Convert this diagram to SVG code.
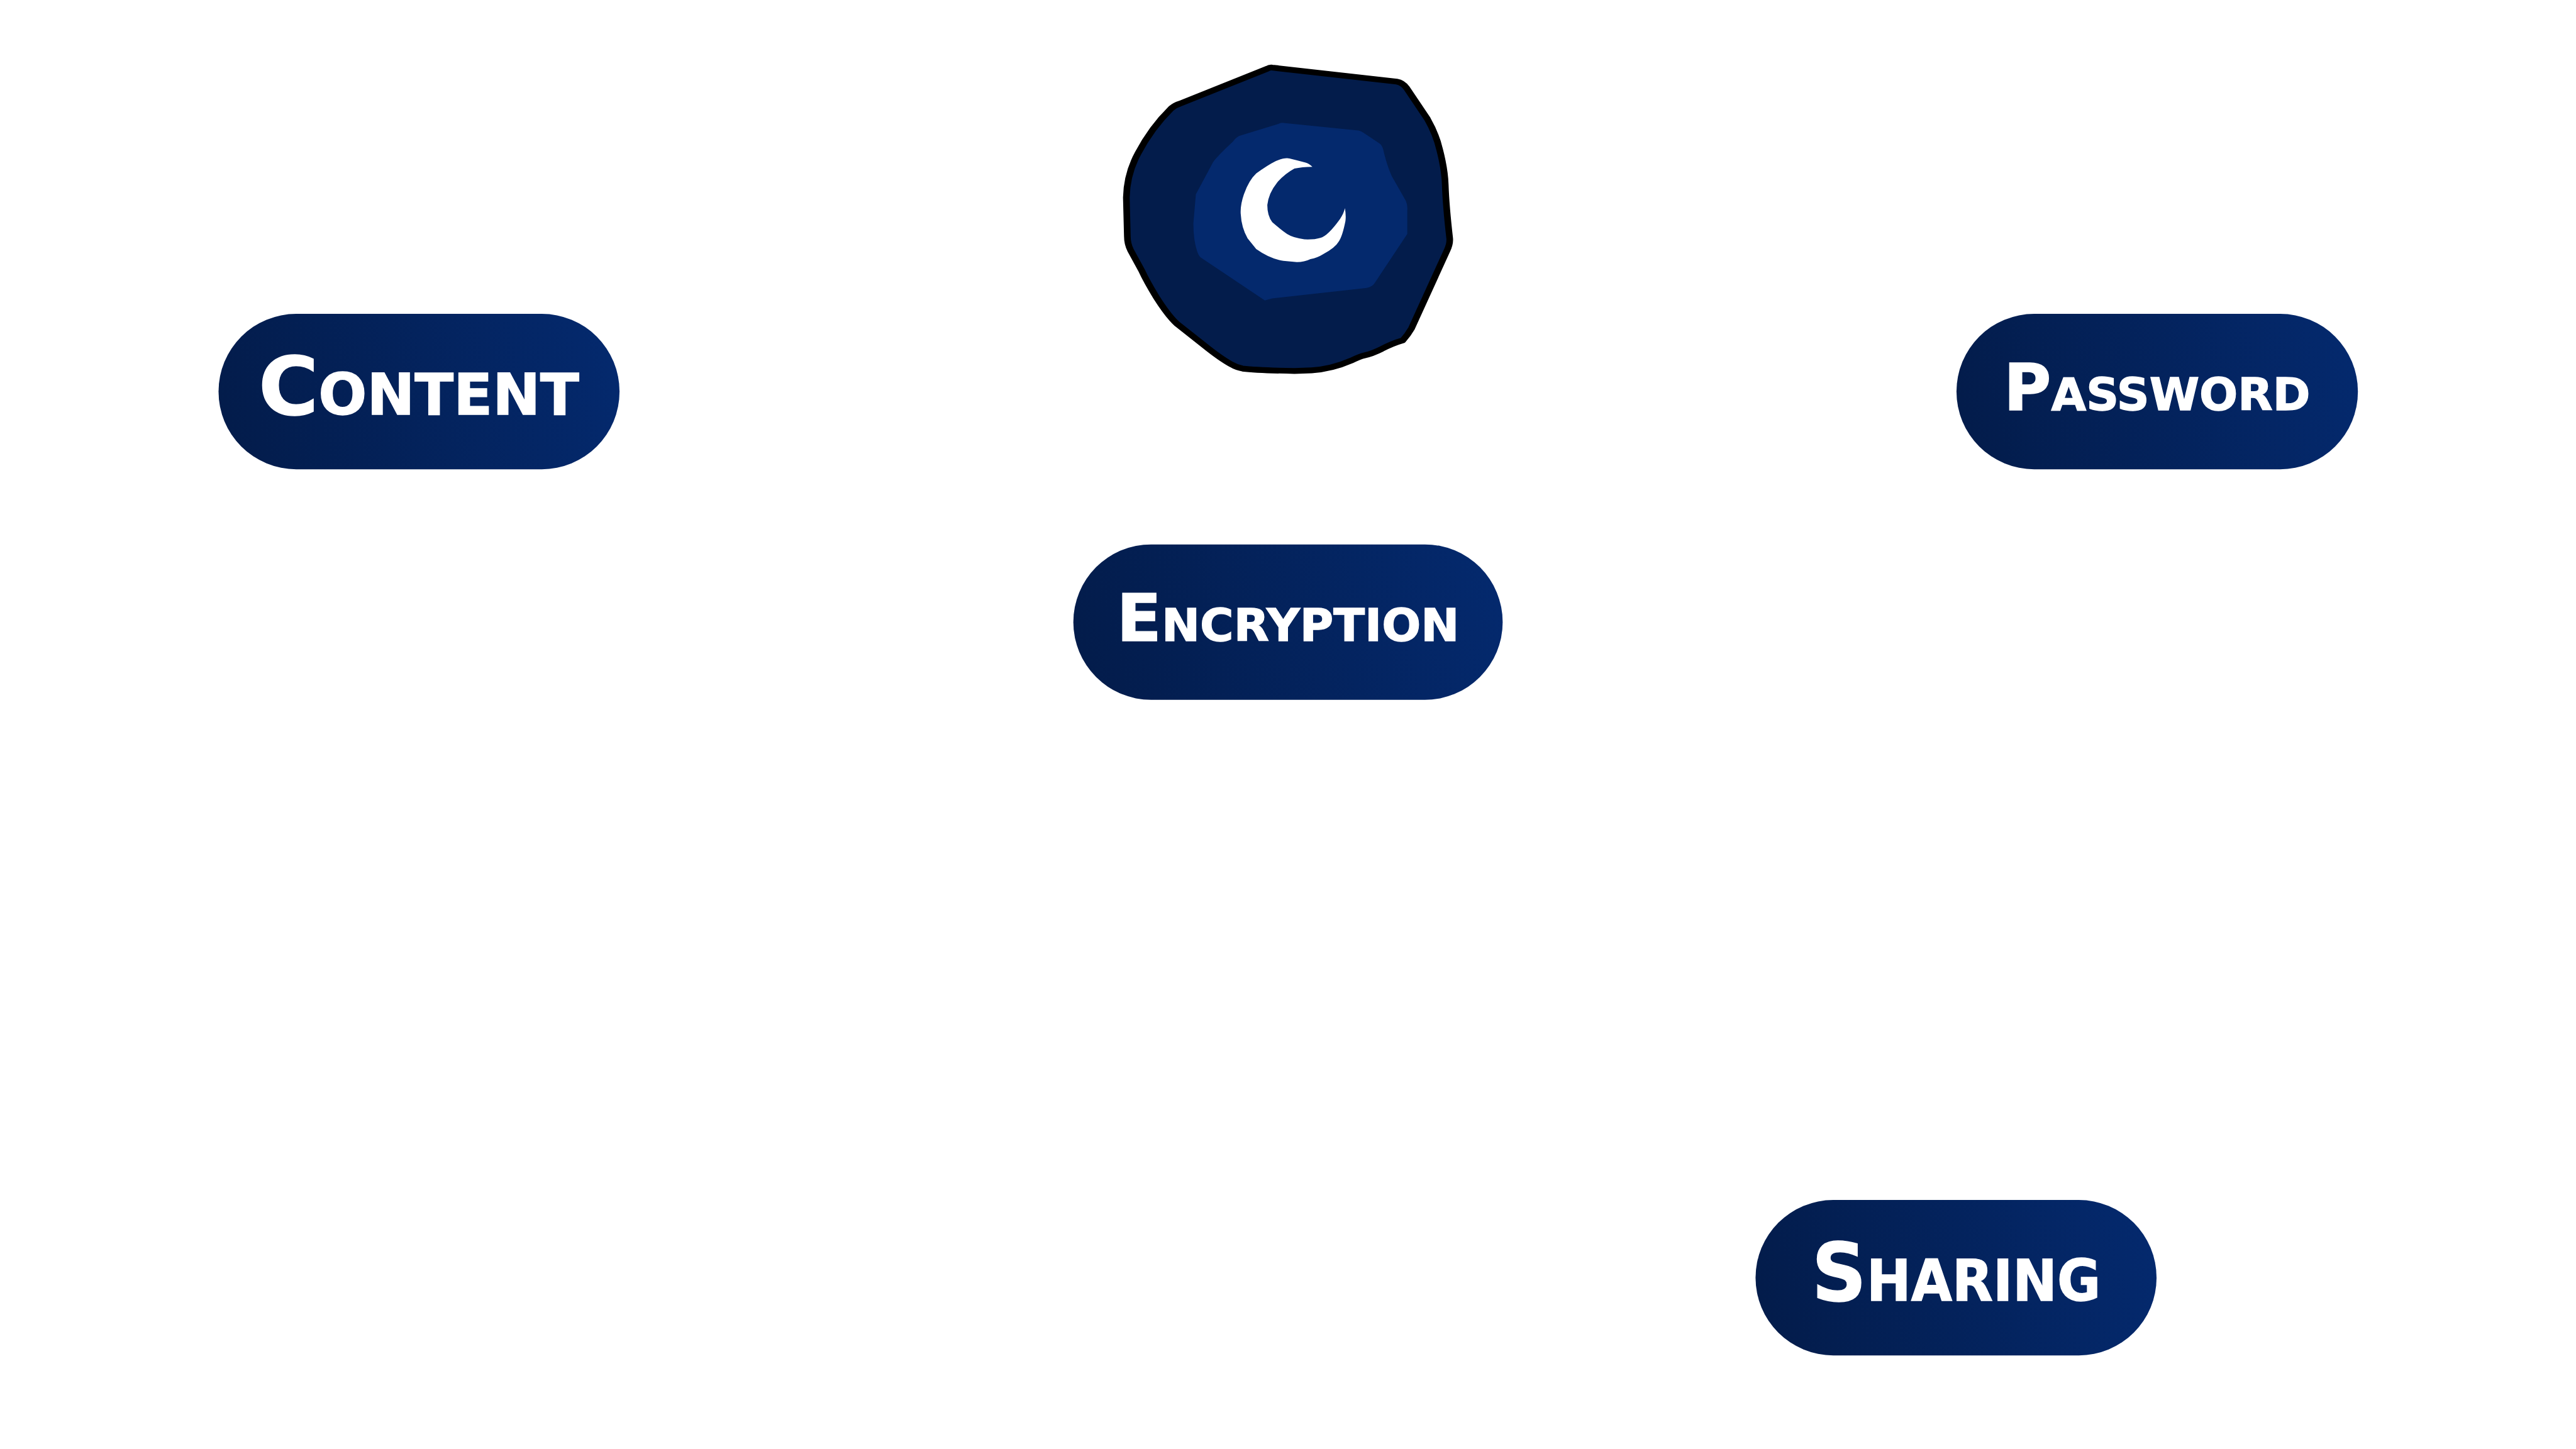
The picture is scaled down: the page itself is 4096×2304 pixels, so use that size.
<svg xmlns="http://www.w3.org/2000/svg" width="4096" height="2304" viewBox="0 0 4096 2304">
<style>
.pill{fill:url(#g)}
.lab{fill:#fff;stroke:#fff;stroke-width:2px;font-family:"DejaVu Sans","Liberation Sans",sans-serif;font-weight:700;font-variant:small-caps}
.big{font-size:189px}
.sm{font-size:151px}
</style>
<defs>
<linearGradient id="g" x1="0" y1="0.55" x2="1" y2="0.45"><stop offset="0" stop-color="#031c4b"/><stop offset="1" stop-color="#04296d"/></linearGradient>
</defs>
<rect width="4096" height="2304" fill="#fff"/>
<g transform="scale(0.68267)">
<g id="icon" transform="translate(2550 120) scale(0.574 0.5)">
<path d="M720 75 L1225 140 Q1250 145 1265 170 L1350 315 Q1385 385 1400 460 Q1420 550 1422 620 Q1425 720 1440 870 Q1442 895 1430 925 L1285 1290 Q1270 1320 1250 1345 Q1205 1360 1165 1385 Q1125 1408 1095 1415 Q1075 1420 1040 1440 Q960 1480 880 1485 L810 1488 Q660 1485 600 1477 Q575 1472 555 1458 Q510 1430 440 1365 L335 1270 Q300 1235 250 1145 Q210 1070 190 1020 L145 925 Q132 895 132 860 L128 680 Q130 570 175 475 Q230 355 310 265 Q325 250 345 243 L700 80 Q710 73 720 75 Z" fill="#031c4b" stroke="#000" stroke-width="27" stroke-linejoin="round"/>
<path d="M760 332 L1070 368 Q1080 370 1090 378 L1155 428 Q1165 435 1170 455 Q1185 530 1205 580 L1262 695 Q1270 715 1268 740 L1268 850 L1135 1080 Q1125 1098 1100 1102 L720 1150 L690 1160 L430 960 Q420 950 415 930 Q400 880 400 800 L410 665 L480 515 Q495 490 560 420 Q575 395 595 390 L745 337 Q752 332 760 332 Z" fill="#04296d"/>
<path d="M883 537 Q870 522 855 517 L790 498 Q770 493 735 510 Q700 530 655 568 Q625 600 605 665 Q590 715 592 755 Q595 820 620 870 L655 920 Q710 965 765 975 L820 981 Q850 981 875 967 Q905 960 925 945 Q975 915 990 885 Q1005 860 1017 790 Q1020 765 1015 730 Q1010 755 995 780 Q945 860 915 868 Q890 877 850 875 Q805 868 780 850 Q755 830 720 795 Q700 765 700 715 Q705 660 740 610 Q770 570 810 545 Q840 538 883 537 Z" fill="#fff"/>
</g>
<g id="content"><rect class="pill" x="509" y="731" width="934" height="362" rx="181"/><text class="lab big" x="602" y="965" textLength="747" lengthAdjust="spacingAndGlyphs">Content</text></g>
<g id="password"><rect class="pill" x="4557" y="731" width="935" height="362" rx="181"/><text class="lab sm" x="4667" y="955" textLength="714" lengthAdjust="spacingAndGlyphs">Password</text></g>
<g id="encryption"><rect class="pill" x="2500" y="1268" width="1000" height="362" rx="181"/><text class="lab sm" x="2601" y="1492" textLength="798" lengthAdjust="spacingAndGlyphs">Encryption</text></g>
<g id="sharing"><rect class="pill" x="4089" y="2795" width="934" height="362" rx="181"/><text class="lab big" x="4220" y="3030" textLength="673" lengthAdjust="spacingAndGlyphs">Sharing</text></g>
</g>
</svg>
